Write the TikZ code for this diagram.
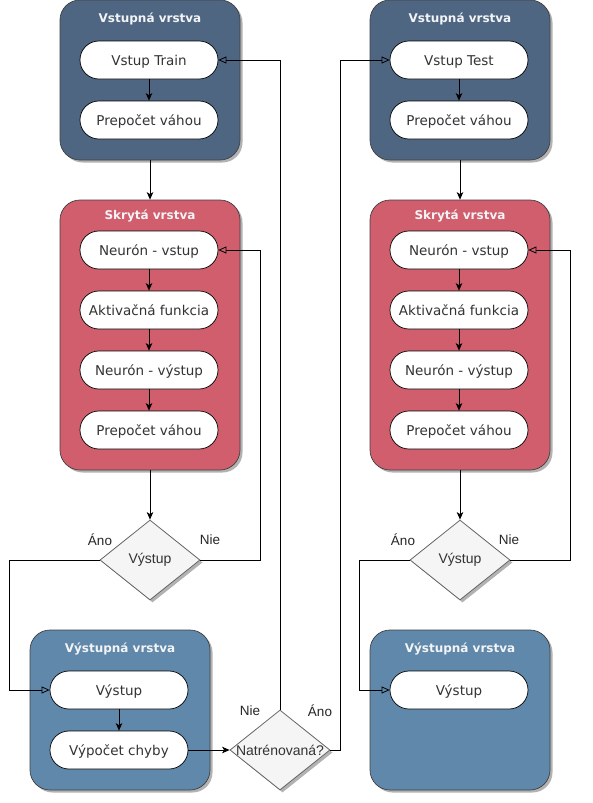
\documentclass[tikz,border=0pt]{standalone}
\usepackage{fontspec}
\setmainfont{DejaVu Sans}
\newfontfamily\labfont{Liberation Sans}
\usetikzlibrary{arrows.meta,shapes.geometric,shadows}
\definecolor{cin}{HTML}{4E6682}
\definecolor{chid}{HTML}{D05E6D}
\definecolor{cout}{HTML}{5F88AA}
\definecolor{dfill}{HTML}{F5F5F5}
\definecolor{dline}{HTML}{666666}
\definecolor{txt}{HTML}{333333}
\tikzset{
  shad/.style={drop shadow={shadow xshift=2.5pt,shadow yshift=-2.5pt,opacity=0.3,fill=black}},
  layer/.style={rectangle,rounded corners=20pt,draw=black!75,line width=0.7pt,minimum width=180pt,inner sep=0pt,shad},
  title/.style={text=white!93!cin,font=\bfseries\fontsize{12}{14}\selectfont,text height=10pt,text depth=0.5pt},
  pill/.style={rectangle,rounded corners=18.9pt,draw=black,line width=0.7pt,fill=white,minimum width=138pt,minimum height=38pt,inner sep=0pt,text=txt,font=\fontsize{13.5}{16}\selectfont,text height=11.5pt,text depth=0.5pt},
  dia/.style={diamond,draw=dline,fill=dfill,line width=0.8pt,minimum width=100pt,minimum height=80pt,inner sep=0pt,aspect=1.25,shad},
  diatext/.style={text=txt,font=\labfont\fontsize{14}{16}\selectfont},
  lab/.style={text=black!85,font=\labfont\fontsize{13.5}{16}\selectfont},
  arr/.style={draw=black,line width=0.8pt,-{Stealth[length=7.5pt,width=6.5pt,inset=2pt]}},
  oarr/.style={draw=black,line width=0.8pt,-{Triangle[open,length=8pt,width=7pt]}}
}
\begin{document}
\begin{tikzpicture}[x=1pt,y=-1pt]
\useasboundingbox (0,0) rectangle (592,803);
% ---------- left column ----------
\node[layer,fill=cin,minimum height=160pt] (in1) at (150,80) {};
\node[title] (tin1) at (150,18) {Vstupná vrstva};
\node[pill] (train) at (149,60) {Vstup Train};
\node[pill] (pw1) at (149,120) {Prepočet váhou};

\node[layer,fill=chid,minimum height=270pt] (hid1) at (150,335) {};
\node[title] (thid1) at (150,215) {Skrytá vrstva};
\node[pill] (nin1) at (149,250) {Neurón - vstup};
\node[pill] (act1) at (149,310) {Aktivačná funkcia};
\node[pill] (nout1) at (149,370) {Neurón - výstup};
\node[pill] (pw2) at (149,430) {Prepočet váhou};

\node[dia] (d1) at (150,560) {};
\node[diatext] (d1t) at (d1) {Výstup};

\node[layer,fill=cout,minimum height=160pt] (out1) at (120,710) {};
\node[title] (tout1) at (120,648) {Výstupná vrstva};
\node[pill] (vy1) at (119,690) {Výstup};
\node[pill] (err1) at (119,750) {Výpočet chyby};

\node[dia] (dn) at (280,750) {};
\node[diatext] (dnt) at (dn) {Natrénovaná?};

% ---------- right column ----------
\node[layer,fill=cin,minimum height=160pt] (in2) at (460,80) {};
\node[title] (tin2) at (460,18) {Vstupná vrstva};
\node[pill] (test) at (459,60) {Vstup Test};
\node[pill] (pw3) at (459,120) {Prepočet váhou};

\node[layer,fill=chid,minimum height=270pt] (hid2) at (460,335) {};
\node[title] (thid2) at (460,215) {Skrytá vrstva};
\node[pill] (nin2) at (459,250) {Neurón - vstup};
\node[pill] (act2) at (459,310) {Aktivačná funkcia};
\node[pill] (nout2) at (459,370) {Neurón - výstup};
\node[pill] (pw4) at (459,430) {Prepočet váhou};

\node[dia] (d2) at (460,560) {};
\node[diatext] (d2t) at (d2) {Výstup};

\node[layer,fill=cout,minimum height=160pt] (out2) at (460,710) {};
\node[title] (tout2) at (460,648) {Výstupná vrstva};
\node[pill] (vy2) at (459,690) {Výstup};

% ---------- connectors ----------
\draw[arr] (train) -- (pw1);
\draw[arr] (in1.south) -- (hid1.north);
\draw[arr] (nin1) -- (act1);
\draw[arr] (act1) -- (nout1);
\draw[arr] (nout1) -- (pw2);
\draw[arr] (hid1.south) -- (d1.north);
\draw[oarr] (d1.east) -- ++(60,0) |- (nin1.east);
\draw[oarr] (d1.west) -- ++(-90,0) |- (vy1.west);
\draw[arr] (vy1) -- (err1);
\draw[arr] (err1.east) -- (dn.west);
\draw[oarr] (dn.north) |- (train.east);
\draw[oarr] (dn.east) -- ++(10,0) |- (test.west);

\draw[arr] (test) -- (pw3);
\draw[arr] (in2.south) -- (hid2.north);
\draw[arr] (nin2) -- (act2);
\draw[arr] (act2) -- (nout2);
\draw[arr] (nout2) -- (pw4);
\draw[arr] (hid2.south) -- (d2.north);
\draw[oarr] (d2.east) -- ++(60,0) |- (nin2.east);
\draw[oarr] (d2.west) -- ++(-50,0) |- (vy2.west);

% ---------- labels ----------
\node[lab] (l1) at (100,540) {Áno};
\node[lab] (l2) at (210,540) {Nie};
\node[lab] (l3) at (403,540) {Áno};
\node[lab] (l4) at (509,540) {Nie};
\node[lab] (l5) at (250,711) {Nie};
\node[lab] (l6) at (320,711) {Áno};
\end{tikzpicture}
\end{document}
